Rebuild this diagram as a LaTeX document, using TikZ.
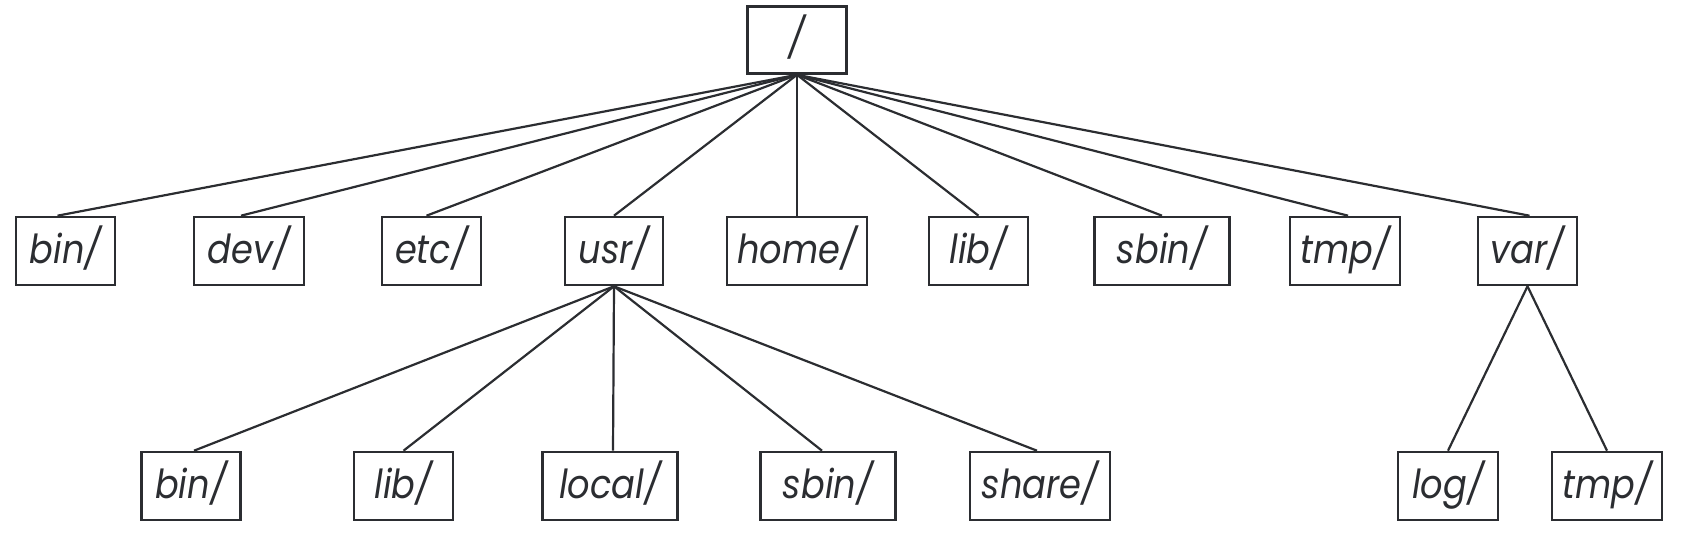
\documentclass[tikz,border=0pt]{standalone}
\usepackage{fontspec}
\setmainfont{Poppins}[FakeStretch=0.88]
\definecolor{ink}{HTML}{2B2D31}
\begin{document}
\begin{tikzpicture}[x=1pt,y=-1pt,
  box/.style={draw=ink, line width=2.6pt, rectangle, inner sep=0pt,
    minimum height=68pt, text height=33pt, text depth=8pt, text=ink,
    font=\fontsize{40}{40}\selectfont\itshape},
  link/.style={draw=ink, line width=2.2pt}]
\useasboundingbox (0,0) rectangle (1683,537);
% root
\node[box, minimum width=99pt, minimum height=67pt] (root) at (797,40) {/};
% row 1
\node[box, minimum width=99pt]  (bin)  at (65.5,251) {bin/};
\node[box, minimum width=110pt] (dev)  at (249,251) {dev/};
\node[box, minimum width=99pt]  (etc)  at (431.5,251) {etc/};
\node[box, minimum width=98pt]  (usr)  at (614,251) {usr/};
\node[box, minimum width=140pt] (home) at (797,251) {home/};
\node[box, minimum width=99pt]  (lib)  at (978.5,251) {lib/};
\node[box, minimum width=135pt] (sbin) at (1162,251) {sbin/};
\node[box, minimum width=110pt] (tmp)  at (1345,251) {tmp/};
\node[box, minimum width=99pt]  (var)  at (1527.5,251) {var/};
% row 2
\node[box, minimum width=99pt]  (ubin)   at (191,486) {bin/};
\node[box, minimum width=99pt]  (ulib)   at (403.5,486) {lib/};
\node[box, minimum width=135pt] (ulocal) at (610,486) {local/};
\node[box, minimum width=135pt] (usbin)  at (828,486) {sbin/};
\node[box, minimum width=140pt] (ushare) at (1040,486) {share/};
\node[box, minimum width=100pt] (vlog)   at (1448,486) {log/};
\node[box, minimum width=110pt] (vtmp)   at (1607,486) {tmp/};
% connectors
\foreach \c/\dx in {bin/-8,dev/-8,etc/-5,usr/0,home/0,lib/0,sbin/0,tmp/3,var/2}
  \draw[link] (root.south) -- ([xshift=\dx pt]\c.north);
\foreach \c/\dx in {ubin/3,ulib/0,ulocal/3,usbin/-6,ushare/-3}
  \draw[link] (usr.south) -- ([xshift=\dx pt]\c.north);
\foreach \c in {vlog,vtmp}
  \draw[link] (var.south) -- (\c.north);
\end{tikzpicture}
\end{document}
